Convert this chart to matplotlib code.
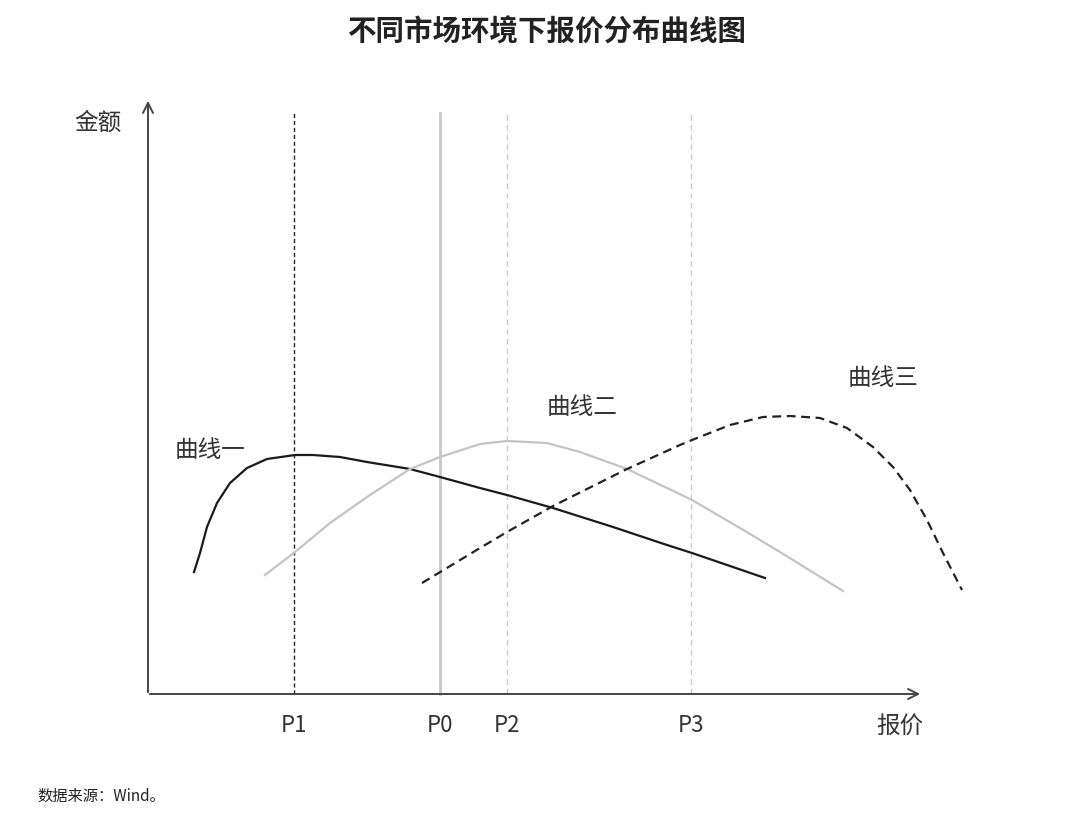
import matplotlib.pyplot as plt
import numpy as np

plt.rcParams['font.family'] = ['Noto Sans CJK SC', 'DejaVu Sans']

# positions (x: price, y: amount, origin at axis corner)
ticks_x = [146, 292, 359, 543]
ticks_lab = ['P1', 'P0', 'P2', 'P3']

c1_x = [46, 52, 59, 69, 82, 99, 119, 147, 165, 192, 219, 262, 292, 332, 359, 405, 465, 519, 544, 582, 617]
c1_y = [122, 141, 167, 191, 211, 226, 235, 239, 239, 237, 232, 225, 217, 206, 199, 186, 167, 149, 141, 128, 116]

c2_x = [117, 147, 182, 219, 262, 292, 332, 359, 399, 432, 479, 519, 544, 592, 632, 695]
c2_y = [119, 142, 171, 197, 225, 237, 250, 253, 251, 242, 225, 206, 194, 166, 142, 103]

c3_x = [274, 332, 359, 405, 479, 532, 544, 582, 615, 642, 672, 699, 725, 745, 762, 779, 795, 814]
c3_y = [111, 146, 162, 188, 225, 249, 254, 269, 277, 278, 276, 266, 247, 227, 204, 174, 141, 104]

fig = plt.figure(figsize=(10.8, 8.17), dpi=100)
ax = fig.add_axes([0, 0, 1, 1])
ax.set_xlim(-148, 932)
ax.set_ylim(-123, 694)
ax.axis('off')

# axes with arrows
ax.annotate('', xy=(775, 0), xytext=(-1, 0),
            arrowprops=dict(arrowstyle='->', color='#444444', lw=1.4, mutation_scale=18))
ax.annotate('', xy=(0, 596), xytext=(0, -1),
            arrowprops=dict(arrowstyle='->', color='#444444', lw=1.4, mutation_scale=18))

# reference lines
ax.plot([ticks_x[0]] * 2, [0, 581], color='#222222', lw=1.0, ls=(0, (3, 2)))
ax.plot([ticks_x[1]] * 2, [0, 581], color='#c8c8c8', lw=2.0)
ax.plot([ticks_x[2]] * 2, [0, 581], color='#cccccc', lw=1.0, ls=(0, (4, 3)))
ax.plot([ticks_x[3]] * 2, [0, 581], color='#cccccc', lw=1.0, ls=(0, (4, 3)))

# curves
ax.plot(c1_x, c1_y, color='#1a1a1a', lw=1.6, solid_joinstyle='round')
ax.plot(c2_x, c2_y, color='#c4c4c4', lw=1.6, solid_joinstyle='round')
ax.plot(c3_x, c3_y, color='#222222', lw=1.6, ls=(0, (4, 2.5)))

for x, lab in zip(ticks_x, ticks_lab):
    ax.text(x, -32, lab, ha='center', va='center', fontsize=16, color='#333333')

ax.text(752, -32, '报价', ha='center', va='center', fontsize=17, color='#333333')
ax.text(-50, 571, '金额', ha='center', va='center', fontsize=17, color='#333333')
ax.text(62, 244, '曲线一', ha='center', va='center', fontsize=17, color='#333333')
ax.text(434, 287, '曲线二', ha='center', va='center', fontsize=17, color='#333333')
ax.text(735, 316, '曲线三', ha='center', va='center', fontsize=17, color='#333333')

fig.text(0.506, 0.96, '不同市场环境下报价分布曲线图', ha='center', va='center',
         fontsize=20.5, fontweight='bold', color='#222222')
fig.text(0.035, 0.025, '数据来源：Wind。', ha='left', va='center', fontsize=11, color='#222222')

fig.savefig('out.png', dpi=100)
